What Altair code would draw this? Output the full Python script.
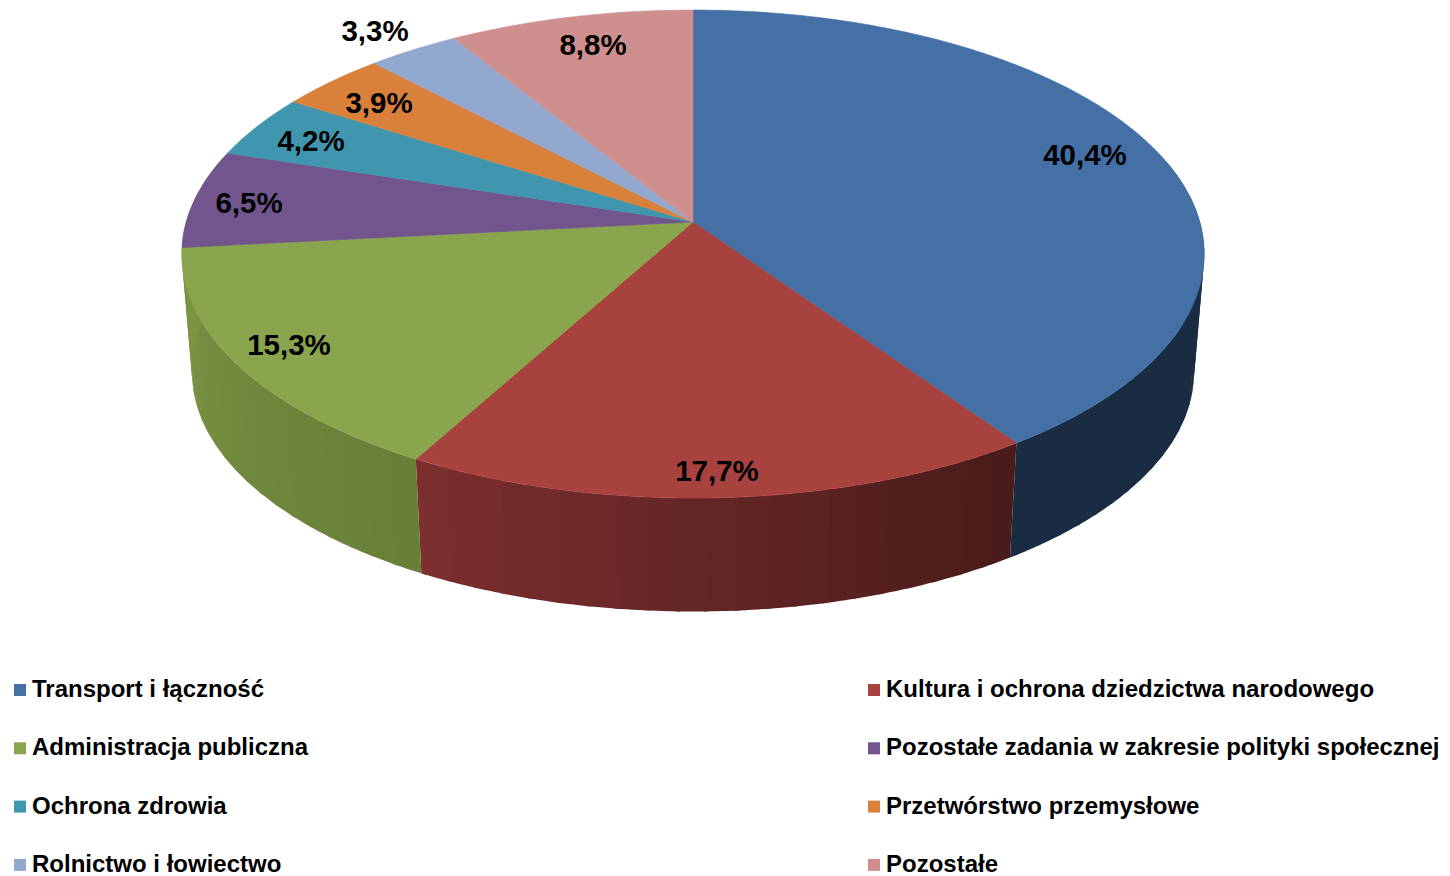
import math
import altair as alt

# ---- data ----
categories = [
    "Transport i łączność",
    "Kultura i ochrona dziedzictwa narodowego",
    "Administracja publiczna",
    "Pozostałe zadania w zakresie polityki społecznej",
    "Ochrona zdrowia",
    "Przetwórstwo przemysłowe",
    "Rolnictwo i łowiectwo",
    "Pozostałe",
]
values = [40.4, 17.7, 15.3, 6.5, 4.2, 3.9, 3.3, 8.8]
labels = ["40,4%", "17,7%", "15,3%", "6,5%", "4,2%", "3,9%", "3,3%", "8,8%"]

# ---- styles ----
colors = ["#4570A6", "#A8423F", "#89A54E", "#71558C", "#3F96AE", "#D9803A", "#92A8CF", "#CF8F8E"]
wall_left = ["#1A2C42", "#7C2F2E", "#7B9444", "#7B9444", "#7B9444", "#7B9444", "#7B9444", "#7B9444"]
wall_right = ["#1A2C42", "#481B1A", "#667E37", "#7B9444", "#7B9444", "#7B9444", "#7B9444", "#7B9444"]
label_anchor_x = [1077, 709, 281, 241, 303, 371, 367, 585]
label_anchor_y = [148, 464, 338, 196, 134, 96, 24, 38]

# ---- layout of the tilted pie (perspective projection of a circle) ----
CX, CY = 685.0, 214.0
AX, BY, P = 506.8, 239.8, 0.1312
SHRINK, DROP = 0.98, 119.0


def top(theta):
    s, c = math.sin(theta), math.cos(theta)
    d = 1 + P * c
    return [CX + AX * s / d, CY - BY * c / d]


def bottom(theta):
    x, y = top(theta)
    return [CX + (x - CX) * SHRINK, CY + (y - CY) * SHRINK + DROP]


def mix(a, b, t):
    pa = [int(a[i:i + 2], 16) for i in (1, 3, 5)]
    pb = [int(b[i:i + 2], 16) for i in (1, 3, 5)]
    return "#%02x%02x%02x" % tuple(round(u + (v - u) * t) for u, v in zip(pa, pb))


def feature(ring, **props):
    return {
        "type": "Feature",
        "properties": props,
        "geometry": {"type": "Polygon", "coordinates": [ring + [ring[0]]]},
    }


total = sum(values)
top_features, wall_features = [], []
start = 0.0
for i, v in enumerate(values):
    end = start + v / total * 2 * math.pi
    n = max(8, int((end - start) / math.radians(0.5)))
    arc = [start + (end - start) * k / n for k in range(n + 1)]
    ring = [[CX, CY]] + [top(t) for t in arc]
    top_features.append(feature(ring, category=categories[i]))

    # side wall: vertical shaded bands, each running a little under the next one
    band = math.radians(3.0)
    overlap = math.radians(0.6)
    a = start
    while a < end - 1e-9:
        b = min(a + band, end)
        mid = (a + b) / 2
        if math.radians(75) < mid < math.radians(285):
            stop = b + overlap if b < end else b
            ts = [a + (stop - a) * k / 6 for k in range(7)]
            quad = [top(t) for t in ts] + [bottom(t) for t in reversed(ts)]
            f = (mid - start) / (end - start)
            wall_features.append(
                feature(quad, fill=mix(wall_right[i], wall_left[i], f), z=mid)
            )
        a = b
    start = end

walls = (
    alt.Chart(alt.Data(values=wall_features))
    .mark_geoshape(strokeWidth=0)
    .encode(color=alt.Color("properties.fill:N", scale=None, legend=None))
    .project(type="identity", scale=1, translate=[0, 0])
)

color_scale = alt.Scale(domain=categories, range=colors)
tops = (
    alt.Chart(alt.Data(values=top_features))
    .mark_geoshape(strokeWidth=0.6)
    .encode(
        color=alt.Color(
            "properties.category:N",
            scale=color_scale,
            legend=alt.Legend(
                title=None,
                orient="none",
                legendX=0,
                legendY=670,
                direction="horizontal",
                columns=2,
                symbolType="square",
                symbolSize=144,
                symbolStrokeWidth=0,
                labelFont="Liberation Sans",
                labelFontSize=24,
                labelFontWeight="bold",
                labelColor="#000000",
                labelLimit=700,
                labelOffset=0,
                columnPadding=553,
                rowPadding=34.3,
            ),
        ),
        stroke=alt.Stroke("properties.category:N", scale=color_scale, legend=None),
    )
    .project(type="identity", scale=1, translate=[0, 0])
)

text_rows = [
    {"label": l, "lon": x, "lat": y}
    for l, x, y in zip(labels, label_anchor_x, label_anchor_y)
]
texts = (
    alt.Chart(alt.Data(values=text_rows))
    .mark_text(
        font="Liberation Sans",
        fontSize=29.5,
        fontWeight="bold",
        color="#000000",
        align="center",
        baseline="middle",
    )
    .encode(longitude="lon:Q", latitude="lat:Q", text="label:N")
    .project(type="identity", scale=1, translate=[0, 0])
)

chart = (
    alt.layer(walls, tops, texts)
    .resolve_scale(color="independent", stroke="independent")
    .properties(
        width=1434,
        height=868,
        padding=0,
        autosize=alt.AutoSizeParams(type="none"),
        background="#ffffff",
    )
    .configure_view(stroke=None)
)

chart.save("out.html", embed_options={"renderer": "svg", "actions": False})
